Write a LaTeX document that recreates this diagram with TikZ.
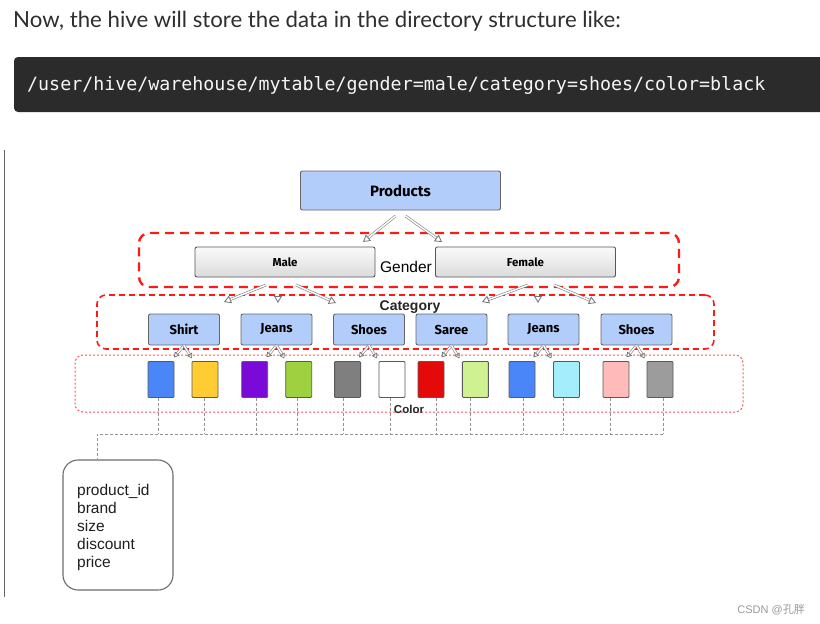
\documentclass[tikz,border=0pt]{standalone}
\usepackage{fontspec}
\setmainfont{Liberation Sans}
\newfontfamily\latofont{Lato}
\newfontfamily\monofont{DejaVu Sans Mono}
\newfontfamily\boxfont{Fira Sans}
\newfontfamily\cjkfont{Noto Sans CJK SC}
\usetikzlibrary{arrows.meta,calc}
\definecolor{bluebox}{HTML}{B3CDFB}
\definecolor{codebg}{HTML}{2B2B2B}
\definecolor{bordergray}{HTML}{666666}
\definecolor{redline}{HTML}{FF1A1A}
\tikzset{
  bluenode/.style={draw=bordergray, line width=0.9pt, fill=bluebox, rounded corners=2pt, inner sep=0pt,
    font=\boxfont\bfseries\fontsize{13}{13}\selectfont},
  graynode/.style={draw=bordergray!85!black, line width=0.9pt, top color=white!96!gray, bottom color=gray!28, rounded corners=2pt,
    inner sep=0pt, minimum width=180pt, minimum height=30pt, font=\boxfont\bfseries\fontsize{11.5}{11.5}\selectfont},
  swatch/.style={draw=black!65, line width=0.9pt, rounded corners=1pt, minimum width=26pt, minimum height=36pt, inner sep=0pt},
  hollowarrow/.style={draw=gray!90!black, line width=0.55pt, double=white, double distance=1.5pt,
    -{Triangle[open, length=7pt, width=8pt, line width=0.8pt]}},
  dropline/.style={draw=gray!85, line width=0.8pt, dash pattern=on 3pt off 2pt},
}
\begin{document}
\begin{tikzpicture}[x=1pt, y=-1pt]
\useasboundingbox (0,0) rectangle (820,624);
\fill[white] (0,0) rectangle (820,624);

% header
\node[anchor=base west, inner sep=0pt, text=black!82, font=\latofont\fontsize{22.2}{22.2}\selectfont] (title) at (13,27)
  {Now, the hive will store the data in the directory structure like:};
\path[fill=codebg, rounded corners=4pt] (14,57) rectangle (830,112);
\node[anchor=west, inner sep=0pt, text=white!96!black, font=\monofont\fontsize{18.3}{18.3}\selectfont] (code) at (27,85)
  {/user/hive/warehouse/mytable/gender=male/category=shoes/color=black};

% left rule
\draw[gray!80!black, line width=1.2pt] (4.5,150) -- (4.5,597);

% group boxes
\node[draw=redline, line width=2.4pt, dash pattern=on 9pt off 6pt, rounded corners=10pt, minimum width=540pt, minimum height=54pt, inner sep=0pt] (genderbox) at (409,260) {};
\node[draw=redline, line width=1.6pt, dash pattern=on 6pt off 4pt, rounded corners=9pt, minimum width=617pt, minimum height=54pt, inner sep=0pt] (catbox) at (405.5,322) {};
\node[draw=redline!75, line width=1pt, dash pattern=on 2pt off 2pt, rounded corners=8pt, minimum width=668pt, minimum height=57pt, inner sep=0pt] (colorbox) at (409,383.5) {};

% Products
\node[bluenode, minimum width=200pt, minimum height=39pt, font=\boxfont\bfseries\fontsize{15}{15}\selectfont] (products) at (400.5,190.5) {Products};

% Gender
\node[graynode] (male) at (285,262) {Male};
\node[graynode] (female) at (525.5,262) {Female};
\node[font=\fontsize{15.5}{15.5}\selectfont, inner sep=0pt] (gender) at (406,267) {Gender};

% Category
\node[font=\bfseries\fontsize{14}{14}\selectfont, inner sep=0pt, text=black!85] (category) at (410,307) {Category};
\foreach \n/\x/\t in {c1/184/Shirt, c2/276.5/Jeans, c3/369/Shoes, c4/451.5/Saree, c5/543.5/Jeans, c6/636.5/Shoes}{
  \node[bluenode, minimum width=71pt, minimum height=31pt] (\n) at (\x,329.5) {\t};
}

% Color swatches
\foreach \n/\x/\c in {s1/161/4A86F7, s2/205/FFCC33, s3/254.7/7A0AD8, s4/298.7/9ED13F, s5/347.6/7F7F7F, s6/392/FFFFFF,
                      s7/431/E40A0A, s8/475.4/D0F191, s9/522/4A86F7, s10/566.5/A4EEFC, s11/616/FFBABA, s12/660/9C9C9C}{
  \definecolor{swc}{HTML}{\c}
  \node[swatch, fill=swc] (\n) at (\x,379.5) {};
}
\node[font=\bfseries\fontsize{11.5}{11.5}\selectfont, inner sep=0pt, text=black!85] (colorlbl) at (409,409) {Color};

% arrows Products -> Gender
\coordinate (pa1) at (395.5,216);
\coordinate (pa2) at (405.5,216);
\coordinate (ma) at (363,242);
\coordinate (fa) at (442,242);
\draw[hollowarrow] (pa1) -- (ma);
\draw[hollowarrow] (pa2) -- (fa);

% arrows Gender -> Category
\coordinate (m1) at (266,285); \coordinate (m2) at (278,285); \coordinate (m3) at (296,285);
\coordinate (f1) at (528,285); \coordinate (f2) at (538,285); \coordinate (f3) at (554,285);
\coordinate (mt1) at (224,302); \coordinate (mt2) at (278,303); \coordinate (mt3) at (336,303);
\coordinate (ft1) at (482,302); \coordinate (ft2) at (538,303); \coordinate (ft3) at (596,303);
\draw[hollowarrow] (m1) -- (mt1);
\draw[hollowarrow] (m2) -- (mt2);
\draw[hollowarrow] (m3) -- (mt3);
\draw[hollowarrow] (f1) -- (ft1);
\draw[hollowarrow] (f2) -- (ft2);
\draw[hollowarrow] (f3) -- (ft3);

% arrows Category -> Color
\foreach \c in {1,...,6}{
  \draw[hollowarrow, -{Triangle[open, length=5pt, width=6pt, line width=0.7pt]}] (c\c.south) -- ++(-10,12);
  \draw[hollowarrow, -{Triangle[open, length=5pt, width=6pt, line width=0.7pt]}] (c\c.south) -- ++(8,13);
}

% dashed drop lines
\coordinate (hl) at (0,434);
\foreach \n/\d in {s1/-3, s2/-1, s3/1.8, s4/-1.7, s5/-4, s6/-1.4, s7/5.8, s8/-5.4, s9/1.4, s10/-3, s11/-6, s12/3}{
  \draw[dropline] ($(\n.south)+(\d,0)$) -- ($(\n.south |- hl)+(\d,0)$);
}
% note box
\node[draw=gray!85!black, line width=1.1pt, rounded corners=15pt, minimum width=110pt, minimum height=130pt, inner sep=0pt] (note) at (118,525) {};
\node[anchor=north west, align=left, inner sep=0pt, font=\fontsize{15.5}{18.1}\selectfont, text=black!88] (notetext) at (77,484)
  {product\_id\\brand\\size\\discount\\price};
\coordinate (hlend) at ($(s12.south |- hl)+(3,0)$);
\draw[dropline] (hlend) -- (97,434) -- (note.north -| 97,0);

% watermark
\node[anchor=base east, inner sep=0pt, text=gray!80, font=\fontsize{11}{11}\selectfont] (wm) at (805,613) {CSDN @{\cjkfont 孔胖}};
\end{tikzpicture}
\end{document}
